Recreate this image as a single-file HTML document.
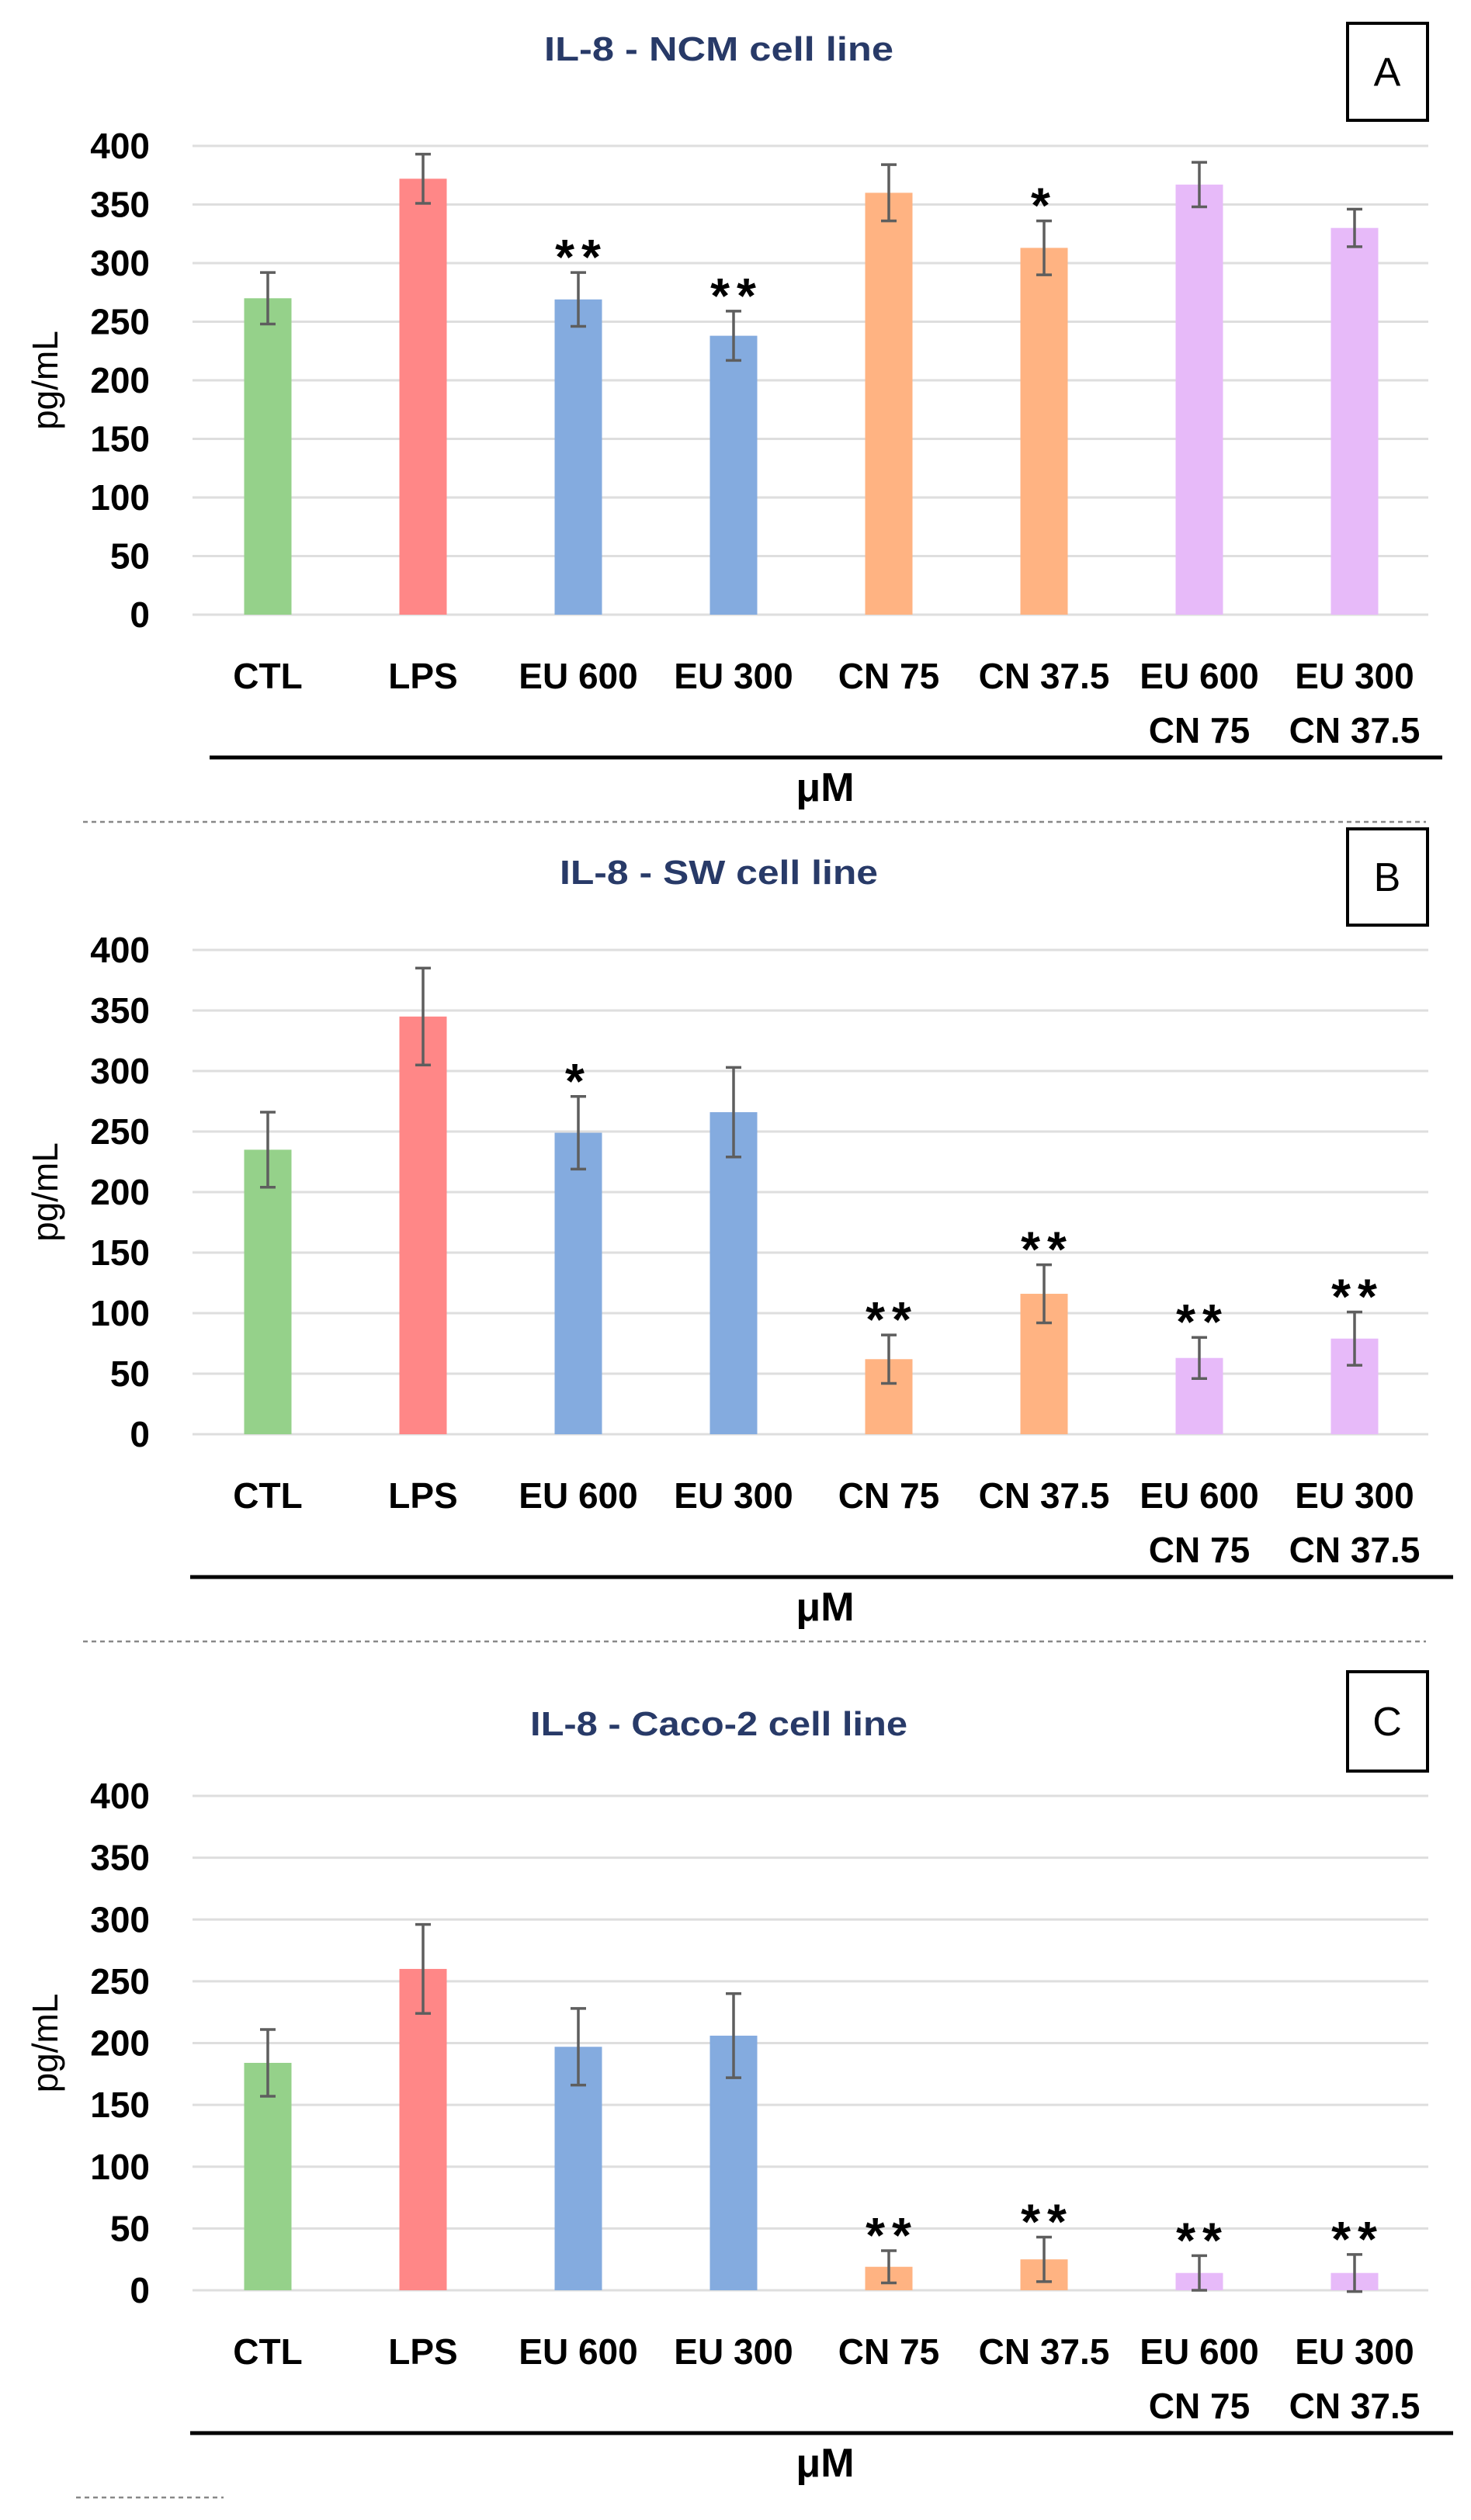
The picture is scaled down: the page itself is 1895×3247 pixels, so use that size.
<!DOCTYPE html>
<html><head><meta charset="utf-8"><style>
html,body{margin:0;padding:0;background:#fff;}
svg{display:block;}
text{font-family:"Liberation Sans",sans-serif;}
</style></head><body>
<svg id="fig" width="1895" height="3247" viewBox="0 0 1895 3247" xmlns="http://www.w3.org/2000/svg"></svg>
<script>
const categories = ["CTL","LPS","EU 600","EU 300","CN 75","CN 37.5","EU 600|CN 75","EU 300|CN 37.5"];
const yTicks = [0,50,100,150,200,250,300,350,400];
const colors = ["#95d18a","#ff8787","#84abdf","#ffb382","#e7baf9","#e7baf9"];
const colorIdx = [0,1,2,2,3,3,4,4];
const ncmValues = [270,372,269,238,360,313,367,330];
const ncmErrors = [22,21,23,21,24,23,19,16];
const ncmStars  = ["","","**","**","","*","",""];
const swValues = [235,345,249,266,62,116,63,79];
const swErrors = [31,40,30,37,20,24,17,22];
const swStars  = ["","","*","","**","**","**","**"];
const cacoValues = [184,260,197,206,19,25,14,14];
const cacoErrors = [27,36,31,34,13,18,14,15];
const cacoStars  = ["","","","","**","**","**","**"];

const panels = [
 {id:"a", title:"IL-8 - NCM cell line", titleW:450, titleY:62, letter:"A", boxY:30, boxH:125,
  y400:188, y0:792, lineX1:270, lineX2:1858, dotted:[107,1837], values:ncmValues, errors:ncmErrors, stars:ncmStars},
 {id:"b", title:"IL-8 - SW cell line", titleW:410, titleY:1123, letter:"B", boxY:1068, boxH:124,
  y400:1224, y0:1848, lineX1:245, lineX2:1872, dotted:[107,1837], values:swValues, errors:swErrors, stars:swStars},
 {id:"c", title:"IL-8 - Caco-2 cell line", titleW:486, titleY:2220, letter:"C", boxY:2154, boxH:128,
  y400:2314, y0:2951, lineX1:245, lineX2:1872, dotted:[98,288], values:cacoValues, errors:cacoErrors, stars:cacoStars}
];

const NS="http://www.w3.org/2000/svg";
const svg=document.getElementById('fig');
function mk(tag,attrs,parent,txt){const e=document.createElementNS(NS,tag);for(const k in attrs)e.setAttribute(k,attrs[k]);if(txt!==undefined)e.textContent=txt;(parent||svg).appendChild(e);return e;}
const xCenter = i => 345 + i*200;
const gridX1=248, gridX2=1840, barW=61;

panels.forEach(p=>{
  const g=mk('g',{});
  
  
  const yS = v => p.y0 - (v/400)*(p.y0-p.y400);
  const t=mk('text',{x:926,y:p.titleY+16,'text-anchor':'middle','font-size':44,'font-weight':'bold',fill:'#283a68',textLength:p.titleW,lengthAdjust:'spacingAndGlyphs'},g,p.title);
  
  
  const box=mk('rect',{x:1736,y:p.boxY,width:103,height:p.boxH,fill:'#fff',stroke:'#000','stroke-width':4},g);
  
  
  const lt=mk('text',{x:1787,y:p.boxY+p.boxH/2+18,'text-anchor':'middle','font-size':52,fill:'#000'},g,p.letter);
  
  
  yTicks.forEach(v=>{
    const y=yS(v);
    const gl=mk('line',{x1:gridX1,x2:gridX2,y1:y,y2:y,stroke:'#dedede','stroke-width':3},g);
    
    
    const tl=mk('text',{x:193,y:y+16,'text-anchor':'end','font-size':46,'font-weight':'bold',fill:'#000'},g,String(v));
    
    
  });
  const yl=mk('text',{x:0,y:0,'text-anchor':'middle','font-size':46,fill:'#000',transform:`translate(74,${(p.y0+p.y400)/2}) rotate(-90)`},g,'pg/mL');
  
  
  categories.forEach((c,i)=>{
    const cx=xCenter(i), v=p.values[i], e=p.errors[i];
    const r=mk('rect',{x:cx-barW/2,y:yS(v),width:barW,height:p.y0-yS(v),fill:colors[colorIdx[i]]},g);
    
    
    const eg=mk('g',{stroke:'#5e5e5e','stroke-width':3.5},g);
    
    
    mk('line',{x1:cx,x2:cx,y1:yS(v+e),y2:yS(v-e)},eg);
    mk('line',{x1:cx-10,x2:cx+10,y1:yS(v+e),y2:yS(v+e)},eg);
    mk('line',{x1:cx-10,x2:cx+10,y1:yS(v-e),y2:yS(v-e)},eg);
    if(p.stars[i]){
      const st=mk('text',{x:cx+(p.stars[i].length>1?4:0),y:yS(v+e)+2,'text-anchor':'middle','font-size':64,'font-weight':'bold','letter-spacing':9,fill:'#000'},g,p.stars[i]);
      
      
    }
    c.split('|').forEach((part,k)=>{
      const xl=mk('text',{x:cx,y:p.y0+95+k*70,'text-anchor':'middle','font-size':46,'font-weight':'bold',fill:'#000'},g,part);
      
      
    });
  });
  const bl=mk('line',{x1:p.lineX1,x2:p.lineX2,y1:p.y0+184,y2:p.y0+184,stroke:'#000','stroke-width':5},g);
  
  
  const um=mk('text',{x:1063,y:p.y0+240,'text-anchor':'middle','font-size':52,'font-weight':'bold',fill:'#000'},g,'μM');
  
  
  const dl=mk('line',{x1:p.dotted[0],x2:p.dotted[1],y1:p.y0+267,y2:p.y0+267,stroke:'#888','stroke-width':2.5,'stroke-dasharray':'6 5'},g);
  
  
});
</script>
</body></html>
